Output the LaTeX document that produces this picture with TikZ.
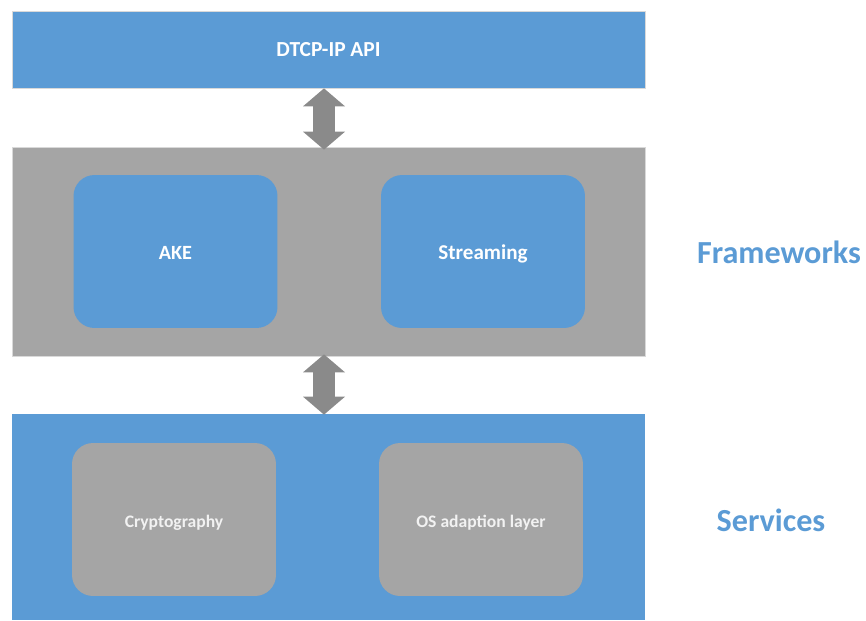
\documentclass[tikz,border=0pt]{standalone}
\usepackage{fontspec}
\setmainfont{Carlito}
\usepackage{xcolor}
\usetikzlibrary{calc}
\usetikzlibrary{positioning, arrows.meta}

\definecolor{layerblue}{HTML}{5B9BD5}
\definecolor{layergray}{HTML}{A5A5A5}
\definecolor{arrowgray}{HTML}{8A8A8A}

\begin{document}
\begin{tikzpicture}[x=0.02cm, y=-0.02cm]
                % Define the styles for the layers, modules and arrows
                \tikzstyle{layer}=[rectangle, minimum width=12.66cm, inner sep=0pt];
                \tikzstyle{module}=[rectangle, rounded corners=0.42cm, minimum width=4.08cm, minimum height=3.06cm,
                                    text height=1.1em, text depth=0.2em, text=white, font=\bfseries];
                \tikzstyle{side label}=[text=layerblue, font=\fontsize{18.3}{20}\selectfont\bfseries];
                \tikzstyle{block arrow}=[draw=arrowgray, line width=0.44cm, {Triangle[width=0.82cm,length=0.36cm]}-{Triangle[width=0.82cm,length=0.36cm]}];

                % Fix the size of the picture
                \useasboundingbox (0,0) rectangle (866,620);

                % Draw the three layers
                \node[layer, fill=layerblue, draw=black!15, minimum height=1.54cm, text=white,
                      font=\fontsize{12.2}{14}\selectfont\bfseries] (api) at (328.5,49.5) {DTCP-IP API};
                \node[layer, fill=layergray, draw=black!15, minimum height=4.18cm] (fw) at (328.5,251.5) {};
                \node[layer, fill=layerblue, minimum height=4.12cm] (sv) at (328.5,517) {};

                % Draw the modules of the frameworks layer
                \node[module, fill=layerblue, font=\fontsize{11.5}{13}\selectfont\bfseries] (ake) at (175.5,251.5) {AKE};
                \node[module, fill=layerblue, font=\fontsize{12}{14}\selectfont\bfseries] (stream) at (483,251.5) {Streaming};

                % Draw the modules of the services layer
                \node[module, fill=layergray, text=white!95!black, font=\fontsize{10}{12}\selectfont\bfseries] (crypto) at (174,519.5) {Cryptography};
                \node[module, fill=layergray, text=white!95!black, font=\fontsize{10}{12}\selectfont\bfseries] (osal) at (481,519.5) {OS adaption layer};

                % Define the ends of the double arrows
                \coordinate (apibot) at ($(api.south)+(-4.5,0)$);
                \coordinate (fwtop) at ($(fw.north)+(-4.5,3)$);
                \coordinate (fwbot) at ($(fw.south)+(-4.5,-2)$);
                \coordinate (svtop) at ($(sv.north)+(-4.5,1)$);

                % Connect the layers with double arrows
                \draw[block arrow] (apibot) -- (fwtop);
                \draw[block arrow] (fwbot) -- (svtop);

                % Label the layers
                \node[side label] (fwlabel) at (779,252) {Frameworks};
                \node[side label] (svlabel) at (771,520) {Services};
            \end{tikzpicture}
\end{document}
